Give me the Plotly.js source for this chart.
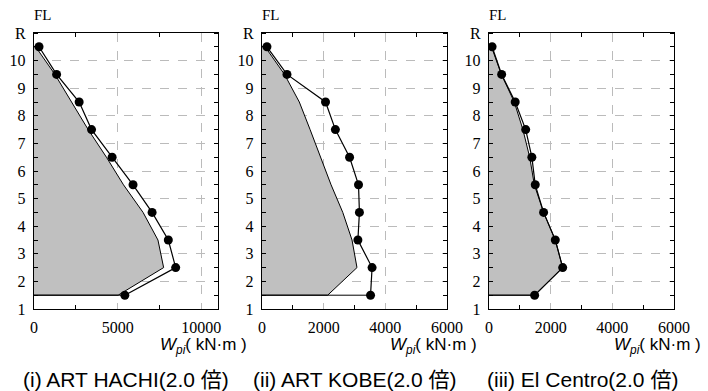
<!DOCTYPE html>
<html><head><meta charset="utf-8">
<script src="https://cdn.plot.ly/plotly-3.0.1.min.js"></script>
<style>body{margin:0;padding:0;background:#fff}#chart{width:708px;height:391px}</style>
</head><body><div id="chart"></div>
<script>
const floors = [10.5, 9.5, 8.5, 7.5, 6.5, 5.5, 4.5, 3.5, 2.5, 1.5];
const yTickVals = [1, 2, 3, 4, 5, 6, 7, 8, 9, 10, 11];
const yTickText = ['1', '2', '3', '4', '5', '6', '7', '8', '9', '10', 'R'];

const hachiDots = [300, 1350, 2700, 3440, 4670, 5920, 7060, 8030, 8470, 5430];
const hachiGray = [100, 1250, 2250, 3240, 4330, 5350, 6520, 7410, 7750, 5030];
const kobeDots  = [160, 810, 2060, 2380, 2840, 3130, 3160, 3110, 3570, 3520];
const kobeGray  = [100, 730, 1210, 1560, 1900, 2240, 2620, 2920, 3080, 2130];
const elcDots   = [100, 410, 850, 1190, 1390, 1500, 1770, 2150, 2390, 1480];
const elcGray   = [80, 400, 820, 1100, 1320, 1470, 1770, 2150, 2390, 1480];

const panels = [
  {dots: hachiDots, gray: hachiGray, range: [0, 11000], major: 5000, minor: 2500, title: '(i) ART HACHI(2.0 倍)'},
  {dots: kobeDots, gray: kobeGray, range: [0, 6000], major: 2000, minor: 1000, title: '(ii) ART KOBE(2.0 倍)'},
  {dots: elcDots, gray: elcGray, range: [0, 6000], major: 2000, minor: 1000, title: '(iii) El Centro(2.0 倍)'}
];

const SERIF = 'Liberation Serif';
const SANS = 'Liberation Sans';

const W = 708, H = 391;
const xDomPx = [[34, 218], [262, 447], [489, 674]];
const yTopPx = 33, yBotPx = 309;
const yDom = [1 - yBotPx / H, 1 - yTopPx / H];
const titleCx = [126, 355, 582];
const axTitleRight = [249, 479, 703];

const traces = [];
const layout = {
  width: W, height: H,
  margin: {l: 0, r: 0, t: 0, b: 0},
  paper_bgcolor: '#fff', plot_bgcolor: '#fff',
  showlegend: false,
  annotations: [],
  font: {family: SERIF, color: '#000'}
};

panels.forEach((p, i) => {
  const n = i === 0 ? '' : String(i + 1);
  const xa = 'x' + n, ya = 'y' + n;
  const last = floors.length - 1;
  traces.push({
    x: [0].concat(p.gray, [0]),
    y: [floors[0]].concat(floors, [floors[last]]),
    xaxis: xa, yaxis: ya, mode: 'lines', fill: 'toself',
    fillcolor: '#c0c0c0', line: {color: '#000', width: 1}, hoverinfo: 'skip'
  });
  traces.push({
    x: [0, p.dots[last]], y: [floors[last], floors[last]],
    xaxis: xa, yaxis: ya, mode: 'lines', line: {color: '#000', width: 1}
  });
  traces.push({
    x: p.dots, y: floors, xaxis: xa, yaxis: ya, mode: 'lines+markers',
    line: {color: '#000', width: 1.2}, marker: {color: '#000', size: 9}
  });
  layout['xaxis' + n] = {
    domain: [xDomPx[i][0] / W, xDomPx[i][1] / W], anchor: ya,
    range: p.range, tick0: 0, dtick: p.major, ticks: '', tickformat: 'd',
    showline: true, linecolor: '#000', linewidth: 1.2, mirror: 'allticks',
    showgrid: true, gridcolor: '#bbb', griddash: 'dash', gridwidth: 1,
    zeroline: false, ticklabelstandoff: 4,
    tickfont: {family: SERIF, size: 16, color: '#000'},
    minor: {dtick: p.minor, tick0: 0, ticks: 'inside', ticklen: 4, tickcolor: '#000', showgrid: false}
  };
  layout['yaxis' + n] = {
    domain: yDom, anchor: xa, range: [1, 11],
    tickmode: 'array', tickvals: yTickVals, ticktext: yTickText, ticks: '',
    showline: true, linecolor: '#000', linewidth: 1.2, mirror: 'allticks',
    showgrid: true, gridcolor: '#bbb', griddash: 'dash', gridwidth: 1,
    zeroline: false, ticklabelstandoff: 4,
    tickfont: {family: SERIF, size: 16, color: '#000'},
    minor: {dtick: 0.5, tick0: 0.5, ticks: 'inside', ticklen: 4, tickcolor: '#000', showgrid: false}
  };
  layout.annotations.push({
    text: 'FL', xref: 'paper', yref: 'paper', x: (xDomPx[i][0] + 9) / W, y: 1 - 15 / H,
    xanchor: 'center', yanchor: 'middle', showarrow: false,
    font: {family: SERIF, size: 15, color: '#000'}
  });
  layout.annotations.push({
    text: '<i>W</i><sub><i>pi</i></sub>( kN·m )', xref: 'paper', yref: 'paper',
    x: axTitleRight[i] / W, y: 1 - 346 / H, xanchor: 'right', yanchor: 'middle', showarrow: false,
    font: {family: SANS, size: 17, color: '#000'}
  });
  layout.annotations.push({
    text: p.title, xref: 'paper', yref: 'paper', x: titleCx[i] / W, y: 1 - 379 / H,
    xanchor: 'center', yanchor: 'middle', showarrow: false,
    font: {family: SANS + ', Noto Sans CJK JP', size: 21, color: '#000'}
  });
});

Plotly.newPlot('chart', traces, layout, {staticPlot: true, displayModeBar: false});
</script></body></html>
